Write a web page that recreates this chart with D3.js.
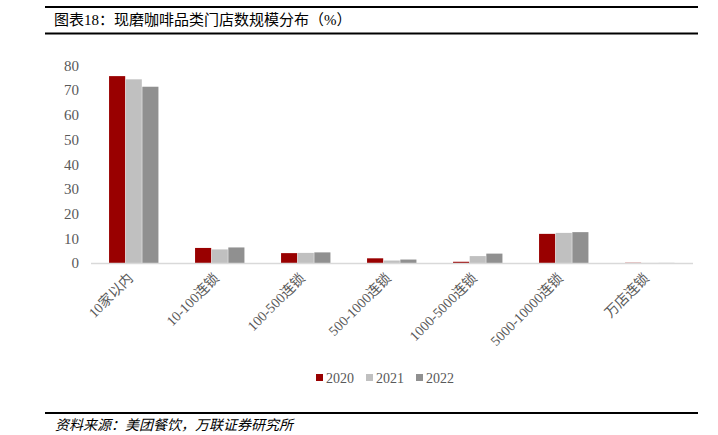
<!DOCTYPE html>
<html><head><meta charset="utf-8">
<script src="https://cdn.jsdelivr.net/npm/d3@7"></script>
<style>body{margin:0;background:#fff}svg{display:block}</style>
</head><body>
<svg id="c" width="718" height="435"></svg>
<script>
const categories = ["10家以内","10-100连锁","100-500连锁","500-1000连锁","1000-5000连锁","5000-10000连锁","万店连锁"];
const seriesNames = ["2020","2021","2022"];
const v2020 = [75.7, 6.1, 4.0, 1.9, 0.5, 11.8, 0.1];
const v2021 = [74.4, 5.5, 4.1, 1.0, 2.8, 12.2, 0.05];
const v2022 = [71.4, 6.3, 4.3, 1.4, 3.8, 12.5, 0.05];
const yTicks = [0,10,20,30,40,50,60,70,80];
const colors = ["#990000","#c0c0c0","#909090"];
const series = [v2020, v2021, v2022];

const svg = d3.select("#c");
const serif = "'Liberation Serif','Noto Serif CJK SC','Noto Sans CJK SC',serif";
const cjk = "'Liberation Serif','Noto Sans CJK SC',serif";

// header lines & title
svg.append("line").attr("x1",45).attr("x2",698).attr("y1",7).attr("y2",7).attr("stroke","#000").attr("stroke-width",2);
svg.append("line").attr("x1",45).attr("x2",698).attr("y1",33.5).attr("y2",33.5).attr("stroke","#000").attr("stroke-width",2);
svg.append("text").attr("x",54).attr("y",25).attr("font-family",cjk).attr("font-size",15).attr("fill","#000")
  .text("图表18：现磨咖啡品类门店数规模分布（%）");
svg.append("line").attr("x1",45).attr("x2",698).attr("y1",413).attr("y2",413).attr("stroke","#000").attr("stroke-width",2);
svg.append("text").attr("x",55).attr("y",430).attr("font-family",cjk).attr("font-size",14).attr("font-style","italic").attr("fill","#000")
  .text("资料来源：美团餐饮，万联证券研究所");

const x0 = d3.scaleBand().domain(categories).range([91,693]).paddingInner(0.42).paddingOuter(0.21);
const x1 = d3.scaleBand().domain(seriesNames).range([0,x0.bandwidth()]);
const y = d3.scaleLinear().domain([0,80]).range([263,65.5]);

// y labels
svg.append("g").selectAll("text").data(yTicks).join("text")
  .attr("x",79).attr("y",d=>y(d)).attr("dy","0.35em").attr("text-anchor","end")
  .attr("font-family",serif).attr("font-size",15).attr("fill","#595959").text(d=>d);

// bars
const g = svg.append("g");
series.forEach((vals,si)=>{
  g.selectAll(null).data(vals).join("rect")
    .attr("x",(d,i)=>x0(categories[i])+x1(seriesNames[si]))
    .attr("width",x1.bandwidth()-0.5)
    .attr("y",d=>y(d)).attr("height",d=>y(0)-y(d))
    .attr("fill",colors[si]);
});

// x axis line
svg.append("line").attr("x1",91).attr("x2",693).attr("y1",263.5).attr("y2",263.5).attr("stroke","#d9d9d9").attr("stroke-width",1.5);

// x labels
svg.append("g").selectAll("text").data(categories).join("text")
  .attr("transform",d=>`translate(${x0(d)+x0.bandwidth()/2},${279}) rotate(-45)`)
  .attr("text-anchor","end").attr("font-family",cjk).attr("font-size",14).attr("fill","#595959").text(d=>d);

// legend
const leg = svg.append("g");
const legX = [316, 366, 416];
seriesNames.forEach((s,i)=>{
  leg.append("rect").attr("x",legX[i]).attr("y",374).attr("width",7).attr("height",7).attr("fill",colors[i]);
  leg.append("text").attr("x",legX[i]+10).attr("y",383).attr("font-family",serif).attr("font-size",14).attr("fill","#595959").text(s);
});
</script>
</body></html>
